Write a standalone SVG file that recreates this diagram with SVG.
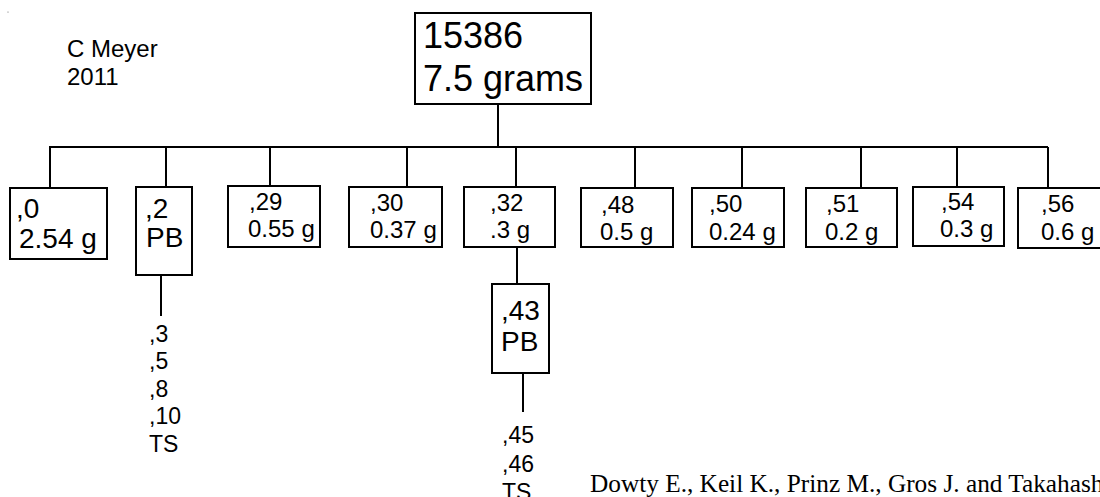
<svg xmlns="http://www.w3.org/2000/svg" width="1100" height="497" viewBox="0 0 1100 497">
<style>
.box{fill:#fff;stroke:#000;stroke-width:2}
.ln{stroke:#000;stroke-width:2;fill:none}
text{font-family:"Liberation Sans",Arial,sans-serif;fill:#000}
.t36{font-size:36px}
.t28{font-size:28px}
.t24{font-size:24px}
.t23{font-size:23px}
.cite{font-family:"Liberation Serif","Times New Roman",serif;font-size:25.3px}
</style>
<rect width="1100" height="497" fill="#fff"/>
<circle cx="8" cy="12" r="0.6" fill="#666"/>
<g id="author">
<text class="t24" x="67" y="57">C Meyer</text>
<text class="t24" x="67" y="85">2011</text>
</g>
<g id="connectors">
<line class="ln" x1="498" y1="104" x2="498" y2="148"/>
<line class="ln" x1="49" y1="147" x2="1048" y2="147"/>
<line class="ln" x1="50" y1="147" x2="50" y2="188"/>
<line class="ln" x1="166" y1="147" x2="166" y2="187"/>
<line class="ln" x1="270" y1="147" x2="270" y2="186"/>
<line class="ln" x1="407" y1="147" x2="407" y2="187"/>
<line class="ln" x1="516" y1="147" x2="516" y2="187"/>
<line class="ln" x1="635" y1="147" x2="635" y2="188"/>
<line class="ln" x1="742" y1="147" x2="742" y2="188"/>
<line class="ln" x1="861" y1="147" x2="861" y2="188"/>
<line class="ln" x1="957" y1="147" x2="957" y2="187"/>
<line class="ln" x1="1048" y1="147" x2="1048" y2="188"/>
<line class="ln" x1="517" y1="247" x2="517" y2="284"/>
<line class="ln" x1="161" y1="275" x2="161" y2="316"/>
<line class="ln" x1="523" y1="373" x2="523" y2="412"/>
</g>
<g id="n15386">
<rect class="box" x="415" y="13" width="176" height="91"/>
<text class="t36" x="423" y="48">15386</text>
<text class="t36" x="423" y="91">7.5 grams</text>
</g>
<g id="n0">
<rect class="box" x="10" y="188" width="97" height="71"/>
<text class="t28" x="16" y="218">,0</text>
<text class="t28" x="19" y="248">2.54 g</text>
</g>
<g id="n2">
<rect class="box" x="136" y="187" width="56" height="88"/>
<text class="t28" x="145" y="218">,2</text>
<text class="t28" x="146" y="247">PB</text>
</g>
<g id="n29">
<rect class="box" x="228" y="186" width="92" height="61"/>
<text class="t24" x="249" y="210">,29</text>
<text class="t24" x="248" y="237">0.55 g</text>
</g>
<g id="n30">
<rect class="box" x="349" y="187" width="93" height="60"/>
<text class="t24" x="370" y="211">,30</text>
<text class="t24" x="370" y="238">0.37 g</text>
</g>
<g id="n32">
<rect class="box" x="464" y="187" width="91" height="60"/>
<text class="t24" x="490" y="211">,32</text>
<text class="t24" x="490" y="238">.3 g</text>
</g>
<g id="n48">
<rect class="box" x="581" y="188" width="92" height="59"/>
<text class="t24" x="601" y="213">,48</text>
<text class="t24" x="600" y="240">0.5 g</text>
</g>
<g id="n50">
<rect class="box" x="692" y="188" width="92" height="59"/>
<text class="t24" x="709" y="212">,50</text>
<text class="t24" x="709" y="240">0.24 g</text>
</g>
<g id="n51">
<rect class="box" x="806" y="188" width="91" height="59"/>
<text class="t24" x="826" y="212">,51</text>
<text class="t24" x="825" y="240">0.2 g</text>
</g>
<g id="n54">
<rect class="box" x="913" y="187" width="91" height="59"/>
<text class="t24" x="941" y="210">,54</text>
<text class="t24" x="940" y="237">0.3 g</text>
</g>
<g id="n56">
<rect class="box" x="1018" y="188" width="92" height="60"/>
<text class="t24" x="1041" y="212">,56</text>
<text class="t24" x="1041" y="240">0.6 g</text>
</g>
<g id="n43">
<rect class="box" x="492" y="284" width="57" height="89"/>
<text class="t28" x="501" y="320">,43</text>
<text class="t28" x="501" y="351">PB</text>
</g>
<g id="list2">
<text class="t23" x="149" y="342">,3</text>
<text class="t23" x="149" y="369">,5</text>
<text class="t23" x="149" y="397">,8</text>
<text class="t23" x="149" y="424">,10</text>
<text class="t23" x="149" y="452">TS</text>
</g>
<g id="list43">
<text class="t23" x="502" y="443">,45</text>
<text class="t23" x="502" y="472">,46</text>
<text class="t23" x="502" y="500">TS</text>
</g>
<text class="cite" x="590" y="492">Dowty E., Keil K., Prinz M., Gros J. and Takahashi</text>
</svg>
